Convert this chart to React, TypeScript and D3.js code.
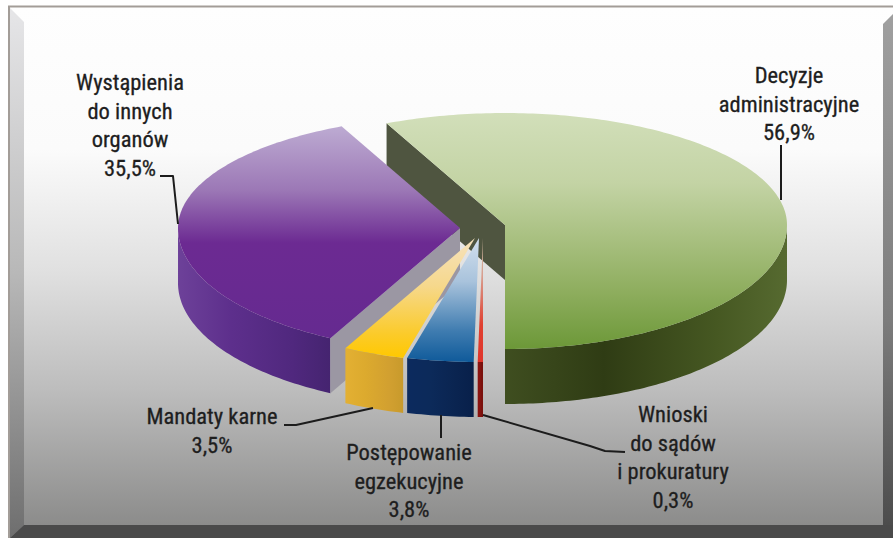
import React from 'react';
import * as d3 from 'd3';

const names = ['Decyzje administracyjne', 'Wystąpienia do innych organów', 'Mandaty karne', 'Postępowanie egzekucyjne', 'Wnioski do sądów i prokuratury'];
const values = [56.9, 35.5, 3.5, 3.8, 0.3];
const topColors = [
  ['#d2dfba', '#c3d3a4', '#8fae5f', '#6c9838'],
  ['#bdabd2', '#9c78b6', '#6c2a92', '#652a90'],
  ['#f6e2bd', '#f6d88c', '#fbcb2a', '#ffc800'],
  ['#d3e0ee', '#a9c3dc', '#3f7cb0', '#0f5a9a'],
  ['#c8b8a0', '#d8a090', '#e04030', '#e0352b'],
];
const topStops = [
  [0, 0.3, 0.75, 1],
  [0, 0.3, 0.55, 1],
  [0, 0.4, 0.8, 1],
  [0, 0.35, 0.75, 1],
  [0, 0.3, 0.7, 1],
];
const wallColors = [
  ['#3f4e20', '#2f3c14', '#465822', '#566a30'],
  ['#6d4199', '#5d2f8c', '#50287e', '#452470'],
  ['#e3b033', '#dcaa2e', '#d2a030', '#c89a2c'],
  ['#0c2a5e', '#0c2a5a', '#0a2450', '#08204a'],
  ['#8a1410', '#8a1410', '#7a100c', '#7a100c'],
];
const apexX = [505, 460, 475, 479, 483];
const apexY = [225, 228, 238, 238, 238];
const labelLines = [
  ['Decyzje', 'administracyjne', '56,9%'],
  ['Wystąpienia', 'do innych', 'organów', '35,5%'],
  ['Mandaty karne', '3,5%'],
  ['Postępowanie', 'egzekucyjne', '3,8%'],
  ['Wnioski', 'do sądów', 'i prokuratury', '0,3%'],
];
const labelX = [789, 130, 212, 409, 673];
const labelY = [83, 90, 424, 460, 422];
const leaders: [number, number][][] = [
  [[781, 145], [781, 200]],
  [[160, 176], [173, 176], [178, 224]],
  [[284, 425], [296, 425], [373, 408]],
  [[441, 415], [441, 438]],
  [[483, 415], [590, 446], [605, 451], [625, 452]],
];

const W = 893, H = 538;
const rx = 282, ryTop = 112, ryBot = 124, depth = 55;

export default function App() {
  // d3.pie gives the angles; the slices run counter-clockwise from the front of the pie.
  const arcs = d3.pie<number>().sort(null).startAngle(Math.PI).endAngle(Math.PI - 2 * Math.PI)(values);
  const slices = arcs.map((a, i) => {
    const cx = apexX[i], cy = apexY[i];
    const proj = (t: number): [number, number] => [
      cx + rx * Math.sin(t),
      cy - (Math.cos(t) > 0 ? ryTop : ryBot) * Math.cos(t),
    ];
    const angle = d3.scaleLinear().domain([0, 1]).range([a.startAngle, a.endAngle]);
    const n = Math.max(8, Math.round(Math.abs(a.endAngle - a.startAngle) * 60));
    const ts = d3.range(n + 1).map((k) => angle(k / n));
    const rim = ts.map(proj);
    const line = d3.line();
    const top = line([[cx, cy], ...rim])! + 'Z';
    const front = ts.filter((t) => Math.cos(t) <= 0.001).map(proj);
    const wall = line([...front, ...[...front].reverse().map(([x, y]) => [x, y + depth] as [number, number])])! + 'Z';
    const endPt = proj(a.endAngle);
    return { i, cx, cy, top, wall, endPt, xs: d3.extent(front.map((p) => p[0])) as [number, number], ymax: d3.max(rim.map((p) => p[1]))!, ymin: Math.min(cy, d3.min(rim.map((p) => p[1]))!) };
  });
  const line = d3.line();
  const face = (s: typeof slices[number], p: [number, number]) =>
    line([[s.cx, s.cy], p, [p[0], p[1] + depth], [s.cx, s.cy + depth]])! + 'Z';

  return (
    <svg width={W} height={H} viewBox={`0 0 ${W} ${H}`} style={{ position: 'absolute', left: 0, top: 0, display: 'block' }}>
      <title>{names.join(', ')}</title>
      <defs>
        <linearGradient id="bg" x1="0" y1="0" x2="0" y2="1">
          <stop offset="0" stopColor="#fefefe" />
          <stop offset="0.27" stopColor="#fbfbfb" />
          <stop offset="0.5" stopColor="#e0e0e0" />
          <stop offset="0.72" stopColor="#bdbdbd" />
          <stop offset="1" stopColor="#878786" />
        </linearGradient>
        <linearGradient id="lb" x1="0" y1="0" x2="0" y2="1">
          <stop offset="0" stopColor="#e6e6e8" />
          <stop offset="0.5" stopColor="#b8b8b8" />
          <stop offset="1" stopColor="#6e6e6e" />
        </linearGradient>
        <linearGradient id="rb" x1="0" y1="0" x2="0" y2="1">
          <stop offset="0" stopColor="#a0a0a0" />
          <stop offset="0.6" stopColor="#7c7c7c" />
          <stop offset="1" stopColor="#4c4c4c" />
        </linearGradient>
        {slices.map((s) => (
          <linearGradient key={s.i} id={`t${s.i}`} gradientUnits="userSpaceOnUse" x1="0" x2="0" y1={s.ymin} y2={s.ymax}>
            {topColors[s.i].map((c, k) => <stop key={k} offset={topStops[s.i][k]} stopColor={c} />)}
          </linearGradient>
        ))}
        {slices.map((s) => (
          <linearGradient key={s.i} id={`w${s.i}`} gradientUnits="userSpaceOnUse" y1="0" y2="0" x1={s.xs[0]} x2={s.xs[1]}>
            {wallColors[s.i].map((c, k) => <stop key={k} offset={[0, 0.35, 0.75, 1][k]} stopColor={c} />)}
          </linearGradient>
        ))}
      </defs>

      <rect x={0} y={0} width={W} height={H} fill="#fff" />
      <rect x={9} y={6} width={W - 9} height={H - 6} fill="url(#bg)" />
      <path d={`M10 8L24 22V525L10 538Z`} fill="url(#lb)" />
      <path d={`M${W} 14L883 24V525L${W} 525Z`} fill="url(#rb)" />
      <path d={`M10 538L24 525H${W}V538Z`} fill="#4a4a4a" />
      <path d={`M9 538V6.5H${W}`} fill="none" stroke="#a39d98" strokeWidth={2} />

      <path d={slices[0].wall} fill="url(#w0)" />
      <path d={face(slices[0], slices[0].endPt)} fill="#4f5540" />
      <path d={slices[0].top} fill="url(#t0)" />
      <path d={slices[1].wall} fill="url(#w1)" />
      <path d={face(slices[1], slices[1].endPt)} fill="#9b97a3" />
      <path d={slices[1].top} fill="url(#t1)" />
      {slices.slice(2).map((s) => (
        <g key={s.i}>
          <path d={s.wall} fill={`url(#w${s.i})`} />
          <path d={s.top} fill={`url(#t${s.i})`} />
        </g>
      ))}

      {leaders.map((p, i) => (
        <path key={i} d={line(p)!} fill="none" stroke="#1c1c1c" strokeWidth={2} strokeLinejoin="round" />
      ))}
      {labelLines.map((ls, i) => (
        <text key={i} textAnchor="middle" fontFamily="'Liberation Sans Narrow', 'Roboto Condensed', Roboto, sans-serif" fontSize={22.5} fill="#1e1e1e" stroke="#1e1e1e" strokeWidth={0.3}>
          {ls.map((t, k) => (
            <tspan key={k} x={labelX[i]} y={labelY[i] + k * 28.5}>{t}</tspan>
          ))}
        </text>
      ))}
    </svg>
  );
}
